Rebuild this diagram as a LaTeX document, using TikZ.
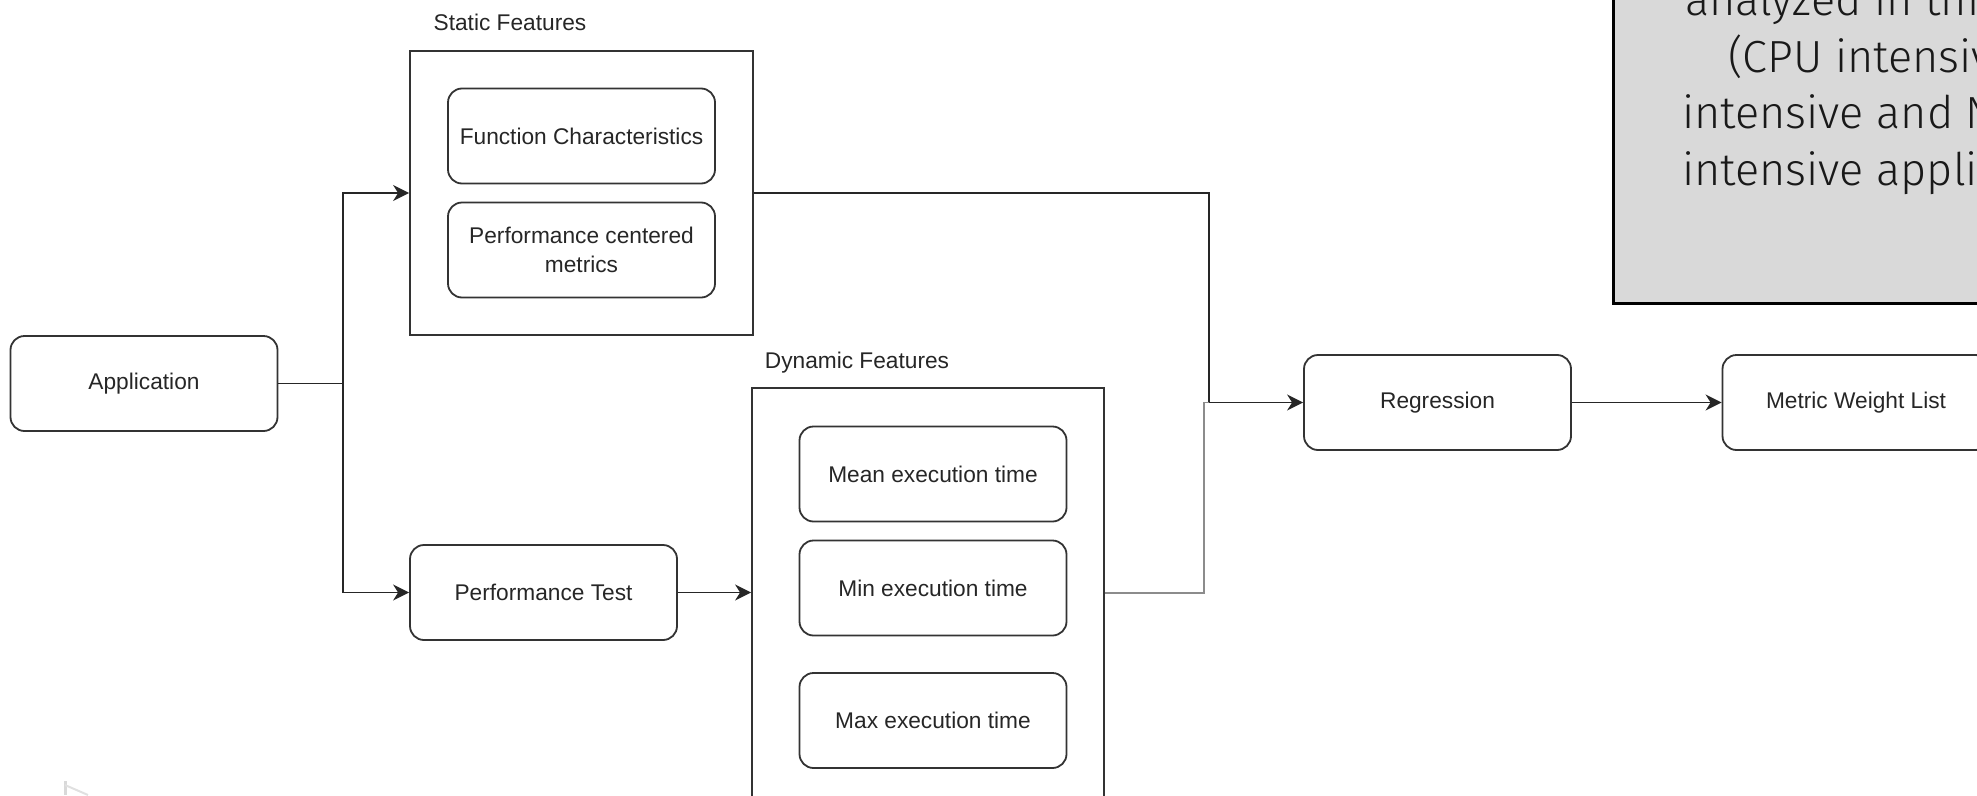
\documentclass[tikz,border=0pt]{standalone}
\usepackage{fontspec}
\setmainfont{Liberation Sans}
\newfontfamily\notefont{Fira Sans Light}
\usetikzlibrary{arrows.meta}
\begin{document}
\begin{tikzpicture}[x=1pt,y=-1pt,
  box/.style={draw=black!80, line width=1.8pt, rounded corners=14pt, minimum width=267pt, minimum height=95pt, font=\fontsize{22.7}{29}\selectfont, text=black!85, align=center, inner sep=0pt},
  frame/.style={draw=black!80, line width=1.8pt, inner sep=0pt},
  lbl/.style={font=\fontsize{22.7}{27}\selectfont, text=black!85, inner sep=0pt},
  conn/.style={draw=black!85, line width=1.8pt},
  arr/.style={conn, -{Stealth[length=16pt,width=16pt,inset=5pt]}},
  note/.style={font=\notefont\fontsize{45}{56}\selectfont, anchor=base west, inner sep=0pt, text=black!90}
]
\useasboundingbox (0,0) rectangle (1977,795);
\clip (0,0) rectangle (1977,795);

% note box (top right)
\node[draw=black, line width=3pt, fill=black!15, anchor=south west, minimum width=420pt, minimum height=340pt, inner sep=0pt] (notebox) at (1612,305) {};
\node[note] (n1) at (1685,15) {analyzed in this study};
\node[note] (n2) at (1728,72) {(CPU intensive, Memory};
\node[note] (n3) at (1682,128) {intensive and Network};
\node[note] (n4) at (1682,185) {intensive applications)};

% static features
\node[frame, minimum width=343pt, minimum height=284pt] (sf) at (581.5,193) {};
\node[lbl] (sfl) at (510,22) {Static Features};
\node[box] (fc) at (581.5,136) {Function Characteristics};
\node[box] (pcm) at (581.5,250) {Performance centered\\metrics};

% application
\node[box] (app) at (144,383.5) {Application};
\node[box] (pt) at (543.5,592.5) {Performance Test};

% dynamic features
\node[frame, minimum width=352pt, minimum height=410pt] (df) at (928,593) {};
\node[lbl] (dfl) at (857,363) {Dynamic Features};
\node[box] (mean) at (933,474) {Mean execution time};
\node[box] (min) at (933,588) {Min execution time};
\node[box] (max) at (933,720.5) {Max execution time};

% right part
\node[box] (reg) at (1437.5,402.5) {Regression};
\node[box] (mwl) at (1856,402.5) {Metric Weight List};

% connectors
\coordinate (ja) at (343,383.5);
\draw[conn] (app.east) -- (ja);
\draw[arr] (ja) |- (sf.west);
\draw[arr] (ja) |- (pt.west);
\draw[arr] (pt.east) -- (pt.east -| df.west);
\coordinate (jr) at (1209,402.5);
\coordinate (jd) at (1204,402.5);
\draw[conn] (sf.east) -| (jr);
\draw[conn, draw=black!45] (df.east) -| (jd) -- (jr);
\draw[arr] (jr) -- (reg.west);
\draw[arr] (reg.east) -- (mwl.west);

% faint mark bottom left
\draw[black!15, line width=3pt] (65,781) -- (65,795);
\draw[black!12, line width=2pt] (65,785) -- (88,795);
\end{tikzpicture}
\end{document}
